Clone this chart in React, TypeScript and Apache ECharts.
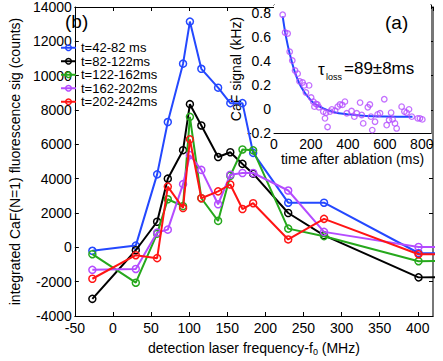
import React, { useEffect, useRef } from "react";
import * as echarts from "echarts";

// ---- main panel (b) ----
const freqMHz = [-27, 30, 58, 72, 92, 101, 116, 138, 154, 170, 184, 230, 277, 401, 450];
const sig42to82 = [-200, 100, 4250, 7300, 10700, 13150, 10400, 9300, 8400, 8400, 5500, 2600, 2600, -330, -350];
const sig82to122 = [-3000, -170, 1490, 4000, 5660, 8340, 7100, 5260, 5540, 4860, 4290, 2000, 700, -1750, -1720];
const sig122to162 = [-400, -2060, 800, 2800, 2400, 7600, 2860, 1540, 4170, 5700, 5650, 1090, 650, -810, -790];
const sig162to202 = [-1310, -1260, 860, 1030, 3680, 5370, 4510, 2510, 4230, 4330, 4330, 3310, 900, 20, 20];
const sig202to242 = [-1830, -460, -630, 3540, 2290, 6290, 2860, 3260, 3660, 2230, 2570, 460, 1660, -400, -400];
const seriesNames = ["t=42-82 ms", "t=82-122ms", "t=122-162ms", "t=162-202ms", "t=202-242ms"];
const seriesColors = ["#2448ff", "#000000", "#26a81c", "#b44cff", "#ff1414"];

// ---- inset (a) ----
const decayTime = [47, 60, 74, 85, 99, 114, 128, 138, 155, 164, 173, 190, 201, 213, 219, 227, 235, 243, 267, 276, 282, 290, 303, 313, 331, 345, 357, 370, 384, 394, 420, 435, 448, 466, 475, 483, 508, 519, 525, 532, 547, 561, 574, 597, 610, 623, 634, 642, 655, 664, 677, 691, 706, 718, 731, 746, 778, 790, 803];
const decaySignal = [0.784, 0.636, 0.628, 0.476, 0.403, 0.32, 0.294, 0.23, 0.22, 0.196, 0.137, 0.196, 0.095, 0.061, 0.019, 0.042, 0.037, 0.014, -0.022, -0.078, -0.031, -0.15, -0.022, -0.003, -0.014, 0.019, 0.037, 0.034, 0.061, -0.036, -0.017, -0.064, -0.036, 0.053, -0.05, -0.12, 0.014, 0.037, -0.064, -0.176, -0.106, -0.045, -0.036, 0.081, -0.134, -0.092, -0.031, -0.087, -0.12, -0.162, -0.204, 0.019, -0.022, -0.031, -0.003, -0.064, -0.078, -0.078, -0.087];
const fitTime = [47, 65, 85, 110, 135, 160, 190, 215, 260, 320, 400, 500, 600, 750];
const fitSignal = [0.77, 0.6, 0.46, 0.32, 0.22, 0.15, 0.09, 0.05, 0.01, -0.025, -0.045, -0.058, -0.063, -0.065];

const FONT = "Liberation Sans, Arial, sans-serif";

export default function App() {
  const ref = useRef<HTMLDivElement>(null);
  useEffect(() => {
    const chart = echarts.init(ref.current!, null, { renderer: "svg" });
    const allSig = [sig42to82, sig82to122, sig122to162, sig162to202, sig202to242];
    const tick = { show: true, inside: true, length: 4, lineStyle: { color: "#000", width: 1 } };
    const line = (c = "#000", w = 1) => ({ show: true, onZero: false, lineStyle: { color: c, width: w } });
    const lbl = (margin: number, showMax: boolean) => ({
      fontSize: 14, color: "#000", fontFamily: FONT, margin, showMaxLabel: showMax,
      formatter: (v: number) => (Math.abs(v) < 1e-9 ? "0" : String(Math.round(v * 10) / 10)),
    });

    const mainSeries = allSig.map((d, i) => ({
      type: "line",
      name: seriesNames[i],
      xAxisIndex: 0,
      yAxisIndex: 0,
      data: freqMHz.map((f, j) => [f, d[j]]),
      symbol: "circle",
      symbolSize: 7,
      showAllSymbol: true,
      clip: true,
      lineStyle: { color: seriesColors[i], width: 2 },
      itemStyle: { color: "rgba(255,255,255,0)", borderColor: seriesColors[i], borderWidth: 1.5 },
      z: 2 + i,
    }));

    const option: any = {
      animation: false,
      backgroundColor: "#fff",
      textStyle: { fontFamily: FONT },
      grid: [
        { left: 57, right: 10, top: 4, bottom: 45, show: false },
        { left: 274, right: 12, top: 5, bottom: 228, show: true, backgroundColor: "#fff", borderWidth: 0, z: 5 },
      ],
      legend: {
        data: seriesNames,
        orient: "vertical",
        left: 60,
        top: 41,
        itemWidth: 15,
        itemHeight: 7,
        itemGap: 0,
        padding: 0,
        itemStyle: { color: "rgba(255,255,255,0)", borderWidth: 1.5 },
        textStyle: { fontSize: 13, color: "#000", fontFamily: FONT, lineHeight: 13.5 },
      },
      xAxis: [
        {
          type: "value", gridIndex: 0, position: "bottom", min: -50, max: 420, interval: 50,
          axisLine: line(), axisTick: tick, axisLabel: lbl(5, false), splitLine: { show: false },
          name: "detection laser frequency-f{sub|0} (MHz)", nameLocation: "middle", nameGap: 23,
          nameTextStyle: { fontSize: 14, color: "#000", fontFamily: FONT, rich: { sub: { fontSize: 9, padding: [8, 0, 0, 0], fontFamily: FONT, color: "#000" } } },
        },
        {
          type: "value", gridIndex: 0, position: "top", min: -50, max: 420, interval: 50,
          axisLine: line(), axisTick: tick, axisLabel: { show: false }, splitLine: { show: false },
        },
        {
          type: "value", gridIndex: 1, position: "bottom", min: 0, max: 850, interval: 200,
          axisLine: line(), axisTick: tick, axisLabel: lbl(4, false), splitLine: { show: false },
          name: "time after ablation (ms)", nameLocation: "middle", nameGap: 15,
          nameTextStyle: { fontSize: 14, color: "#000", fontFamily: FONT },
        },
        {
          type: "value", gridIndex: 1, position: "top", min: 0, max: 850, interval: 200,
          axisLine: line(), axisTick: tick, axisLabel: { show: false }, splitLine: { show: false },
        },
      ],
      yAxis: [
        {
          type: "value", gridIndex: 0, position: "left", min: -4000, max: 14000, interval: 2000,
          axisLine: line(), axisTick: tick, axisLabel: lbl(3, true), splitLine: { show: false },
          name: "integrated CaF(N=1) fluorescence sig (counts)", nameLocation: "middle", nameGap: 37,
          nameTextStyle: { fontSize: 14, color: "#000", fontFamily: FONT },
        },
        {
          type: "value", gridIndex: 0, position: "right", min: -4000, max: 14000, interval: 2000,
          axisLine: line("#777", 2), axisTick: tick, axisLabel: { show: false }, splitLine: { show: false },
        },
        {
          type: "value", gridIndex: 1, position: "left", min: -0.2, max: 0.865, interval: 0.2,
          axisLine: line(), axisTick: tick, axisLabel: lbl(3, false), splitLine: { show: false },
          name: "CaF signal (kHz)", nameLocation: "middle", nameGap: 16,
          nameTextStyle: { fontSize: 14, color: "#000", fontFamily: FONT },
        },
        {
          type: "value", gridIndex: 1, position: "right", min: -0.2, max: 0.865, interval: 0.2,
          axisLine: line("#777", 2), axisTick: tick, axisLabel: { show: false }, splitLine: { show: false },
        },
      ],
      graphic: [
        { type: "text", left: 65, top: 12, z: 100, style: { text: "(b)", fontSize: 19, fill: "#000", fontFamily: FONT } },
        { type: "text", left: 385, top: 13, z: 100, style: { text: "(a)", fontSize: 19, fill: "#000", fontFamily: FONT } },
        { type: "text", x: 318, y: 69, z: 100, style: { text: "τ", fontSize: 17, fill: "#000", fontFamily: FONT, verticalAlign: "middle" } },
        { type: "text", x: 326, y: 77, z: 100, style: { text: "loss", fontSize: 9, fill: "#000", fontFamily: FONT, verticalAlign: "middle" } },
        { type: "text", x: 344, y: 68, z: 100, style: { text: "=89±8ms", fontSize: 17, fill: "#000", fontFamily: FONT, verticalAlign: "middle" } },
      ],
      series: [
        ...mainSeries,
        {
          type: "line",
          xAxisIndex: 2,
          yAxisIndex: 2,
          data: fitTime.map((t, j) => [t, fitSignal[j]]),
          smooth: 0.4,
          showSymbol: false,
          lineStyle: { color: "#1f48ff", width: 2 },
          z: 10,
        },
        {
          type: "scatter",
          xAxisIndex: 2,
          yAxisIndex: 2,
          data: decayTime.map((t, j) => [t, decaySignal[j]]),
          symbol: "circle",
          symbolSize: 5.5,
          itemStyle: { color: "rgba(255,255,255,0)", borderColor: "#b44cff", borderWidth: 1.3 },
          z: 11,
        },
      ],
    };
    chart.setOption(option);
    return () => chart.dispose();
  }, []);
  return <div ref={ref} style={{ position: "fixed", left: 0, top: 0, width: 443, height: 361 }} />;
}
